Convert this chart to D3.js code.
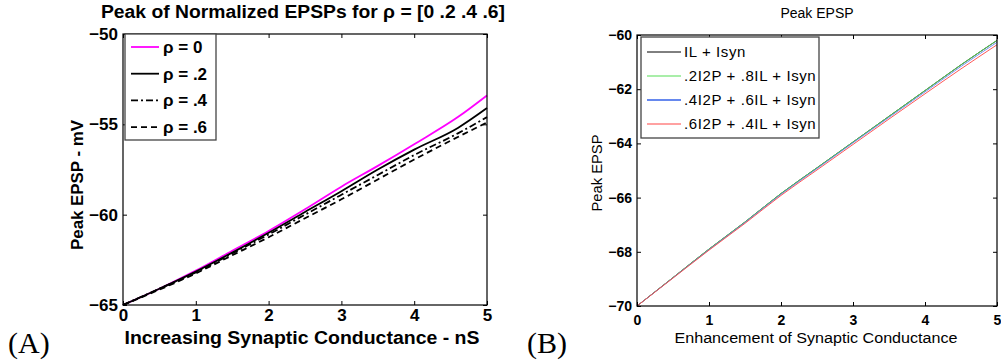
<!DOCTYPE html>
<html><head><meta charset="utf-8">
<script src="https://cdn.jsdelivr.net/npm/d3@7"></script>
<style>body{margin:0;background:#fff}svg{display:block}</style>
</head><body>
<svg id="c" width="1001" height="364"></svg>
<script>
// Panel A data
const xA = [0, 0.5, 1, 1.5, 2, 2.5, 3, 3.5, 4, 4.6, 5];
const rho0 = [-65, -64.1, -63.1, -62.0, -60.9, -59.7, -58.45, -57.3, -56.1, -54.6, -53.4];
const rho2 = [-65, -64.1, -63.15, -62.1, -61.0, -59.85, -58.7, -57.5, -56.4, -55.2, -54.1];
const rho4 = [-65, -64.1, -63.2, -62.15, -61.1, -60.0, -58.9, -57.8, -56.7, -55.5, -54.6];
const rho6 = [-65, -64.15, -63.25, -62.25, -61.25, -60.2, -59.15, -58.05, -56.95, -55.7, -54.9];
const legendA = ["ρ = 0", "ρ = .2", "ρ = .4", "ρ = .6"];
const xTicksA = [0, 1, 2, 3, 4, 5];
const yTicksA = [-65, -60, -55, -50];
// Panel B data
const xB = [0, 0.5, 1, 1.5, 2, 2.5, 3, 3.5, 4, 4.5, 5];
const bIL = [-70, -68.95, -67.9, -66.9, -65.85, -64.9, -63.95, -63.0, -62.05, -61.1, -60.2];
const b2  = [-70, -68.95, -67.9, -66.9, -65.85, -64.9, -63.95, -63.0, -62.05, -61.1, -60.2];
const b4  = [-70, -68.96, -67.92, -66.92, -65.88, -64.93, -63.98, -63.04, -62.1, -61.16, -60.27];
const b6  = [-70, -68.97, -67.94, -66.95, -65.92, -64.98, -64.04, -63.1, -62.17, -61.25, -60.36];
const legendB = ["IL + Isyn", ".2I2P + .8IL + Isyn", ".4I2P + .6IL + Isyn", ".6I2P + .4IL + Isyn"];
const xTicksB = [0, 1, 2, 3, 4, 5];
const yTicksB = [-70, -68, -66, -64, -62, -60];

const svg = d3.select("#c");
const FA = "'Liberation Sans', Arial, sans-serif";
const FS = "'Liberation Serif', 'DejaVu Serif', serif";

function panel(opt) {
  const g = svg.append("g");
  const x = d3.scaleLinear().domain([0, 5]).range([opt.x0, opt.x1]);
  const y = d3.scaleLinear().domain(opt.ydom).range([opt.y1, opt.y0]);
  const line = d3.line().x((d, i) => x(opt.xs[i])).y(d => y(d)).curve(d3.curveMonotoneX);
  opt.series.forEach(s => {
    g.append("path").datum(s.v).attr("d", line).attr("fill", "none")
      .attr("stroke", s.c).attr("stroke-width", s.w).attr("stroke-dasharray", s.dash || null);
  });
  const tl = 4;
  g.append("g").attr("transform", `translate(0,${opt.y1})`)
    .call(d3.axisBottom(x).tickValues(opt.xt).tickSize(-tl).tickPadding(opt.padX).tickFormat(d3.format("d")))
    .call(a => a.select(".domain").remove());
  g.append("g").attr("transform", `translate(0,${opt.y0})`)
    .call(d3.axisTop(x).tickValues(opt.xt).tickSize(-tl).tickFormat(""))
    .call(a => a.select(".domain").remove());
  g.append("g").attr("transform", `translate(${opt.x0},0)`)
    .call(d3.axisLeft(y).tickValues(opt.yt).tickSize(-tl).tickPadding(5).tickFormat(d3.format("d")))
    .call(a => a.select(".domain").remove());
  g.append("g").attr("transform", `translate(${opt.x1},0)`)
    .call(d3.axisRight(y).tickValues(opt.yt).tickSize(-tl).tickFormat(""))
    .call(a => a.select(".domain").remove());
  g.selectAll(".tick line").attr("stroke", "#000");
  g.selectAll(".tick text").attr("font-family", FA).attr("font-size", opt.tickFs)
    .attr("font-weight", "bold").attr("fill", "#000");
  g.append("rect").attr("x", opt.x0).attr("y", opt.y0).attr("width", opt.x1 - opt.x0)
    .attr("height", opt.y1 - opt.y0).attr("fill", "none").attr("stroke", "#000").attr("stroke-width", 1.2);
  const L = opt.legend;
  g.append("rect").attr("x", L.x).attr("y", L.y).attr("width", L.w).attr("height", L.h)
    .attr("fill", "#fff").attr("stroke", "#444").attr("stroke-width", 1.3);
  opt.series.forEach((s, i) => {
    const yy = L.y + L.first + i * L.step;
    g.append("line").attr("x1", L.x + L.l0).attr("x2", L.x + L.l1).attr("y1", yy).attr("y2", yy)
      .attr("stroke", s.c).attr("stroke-width", s.lw || s.w).attr("stroke-dasharray", s.dash || null);
    g.append("text").attr("x", L.x + L.t0).attr("y", yy).attr("dy", "0.35em")
      .attr("font-family", FA).attr("font-size", L.fs).attr("font-weight", opt.bold ? "bold" : "normal")
      .attr("letter-spacing", L.ls || 0)
      .text(opt.labels[i]);
  });
  return {x, y, g};
}

panel({
  x0: 123, x1: 487, y0: 34, y1: 305, ydom: [-65, -50], xs: xA, xt: xTicksA, yt: yTicksA,
  tickFs: 17, padX: 4, bold: true, labels: legendA,
  series: [
    {v: rho0, c: "#ff00ff", w: 1.8},
    {v: rho2, c: "#000", w: 1.8},
    {v: rho4, c: "#000", w: 1.8, dash: "7,3,2,3"},
    {v: rho6, c: "#000", w: 1.8, dash: "6,4"}
  ],
  legend: {x: 125, y: 34, w: 91, h: 106, first: 13, step: 26.7, l0: 6, l1: 34, t0: 38, fs: 17}
});

panel({
  x0: 637, x1: 997, y0: 35, y1: 306, ydom: [-70, -60], xs: xB, xt: xTicksB, yt: yTicksB,
  tickFs: 14, padX: 9, bold: false, labels: legendB,
  series: [
    {v: bIL, c: "#000", w: 0.9, lw: 1},
    {v: b2, c: "#55dd55", w: 0.9, lw: 1.2},
    {v: b4, c: "#6688ee", w: 0.9, lw: 2},
    {v: b6, c: "#ff4444", w: 0.9, lw: 1.2}
  ],
  legend: {x: 641, y: 37, w: 178, h: 101, first: 15, step: 24, l0: 6, l1: 40, t0: 43, fs: 15, ls: 0.6}
});

// titles and labels
svg.append("text").attr("x", 303).attr("y", 18).attr("text-anchor", "middle")
  .attr("font-family", FA).attr("font-weight", "bold").attr("font-size", 18)
  .attr("textLength", 404).attr("lengthAdjust", "spacingAndGlyphs")
  .text("Peak of Normalized EPSPs for ρ = [0 .2 .4 .6]");
svg.append("text").attr("x", 302).attr("y", 344).attr("text-anchor", "middle")
  .attr("font-family", FA).attr("font-weight", "bold").attr("font-size", 18)
  .attr("textLength", 355).attr("lengthAdjust", "spacingAndGlyphs")
  .text("Increasing Synaptic Conductance - nS");
svg.append("text").attr("transform", "translate(83,185) rotate(-90)").attr("text-anchor", "middle")
  .attr("font-family", FA).attr("font-weight", "bold").attr("font-size", 17)
  .attr("textLength", 130).attr("lengthAdjust", "spacingAndGlyphs")
  .text("Peak EPSP - mV");
svg.append("text").attr("x", 817).attr("y", 18).attr("text-anchor", "middle")
  .attr("font-family", FA).attr("font-size", 14).text("Peak EPSP");
svg.append("text").attr("x", 816).attr("y", 343).attr("text-anchor", "middle")
  .attr("font-family", FA).attr("font-size", 14)
  .attr("textLength", 283).attr("lengthAdjust", "spacingAndGlyphs")
  .text("Enhancement of Synaptic Conductance");
svg.append("text").attr("transform", "translate(602,173) rotate(-90)").attr("text-anchor", "middle")
  .attr("font-family", FA).attr("font-size", 15)
  .attr("textLength", 77).attr("lengthAdjust", "spacingAndGlyphs").text("Peak EPSP");
svg.append("text").attr("x", 8).attr("y", 353).attr("font-family", FS)
  .attr("font-size", 30).text("(A)");
svg.append("text").attr("x", 527).attr("y", 353).attr("font-family", FS)
  .attr("font-size", 30).text("(B)");
</script>
</body></html>
